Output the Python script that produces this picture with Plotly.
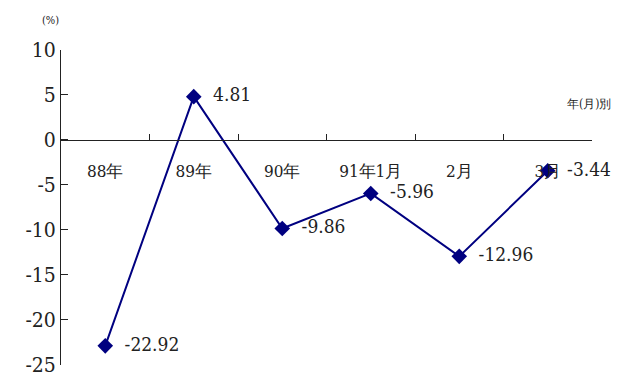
import plotly.graph_objects as go

categories = ["88年", "89年", "90年", "91年1月", "2月", "3月"]
values = [-22.92, 4.81, -9.86, -5.96, -12.96, -3.44]
value_labels = ["-22.92", "4.81", "-9.86", "-5.96", "-12.96", "-3.44"]
y_ticks = [10, 5, 0, -5, -10, -15, -20, -25]

FONT = "DejaVu Serif Condensed, DejaVu Serif"
NAVY = "#000080"
INK = "#222"

fig = go.Figure()
fig.add_trace(go.Scatter(
    x=categories, y=values,
    mode="lines+markers+text",
    line=dict(color=NAVY, width=2),
    marker=dict(symbol="diamond", size=12, color=NAVY),
    text=["  " + t for t in value_labels],
    textposition="middle right",
    textfont=dict(family=FONT, size=19, color=INK),
    cliponaxis=False,
    showlegend=False,
))

fig.update_layout(
    width=616, height=367,
    margin=dict(l=53, r=32, t=42, b=10),
    paper_bgcolor="white", plot_bgcolor="white",
    font=dict(family=FONT, color=INK),
    xaxis=dict(
        type="category",
        range=[-0.5, 5.5],
        anchor="free", position=(0 - (-25.05)) / 35.05,
        showline=True, linecolor=INK, linewidth=1,
        ticks="inside", ticklen=6, tickcolor=INK,
        tickson="boundaries",
        showgrid=False, zeroline=False, automargin=False,
        tickfont=dict(family=FONT, size=17, color=INK),
        ticklabelstandoff=16,
    ),
    yaxis=dict(
        range=[-25.05, 10],
        tickvals=y_ticks,
        ticktext=[str(v) for v in y_ticks],
        showline=True, linecolor=INK, linewidth=1,
        ticks="inside", ticklen=7, tickcolor=INK,
        showgrid=False, zeroline=False, automargin=False,
        ticklabeloverflow="allow",
        tickfont=dict(family=FONT, size=21, color=INK),
    ),
    annotations=[
        dict(text="(%)", xref="paper", yref="paper", x=0, y=1.0, yshift=30,
             showarrow=False, font=dict(family=FONT, size=11, color=INK),
             xanchor="right", yanchor="middle"),
        dict(text="年(月)別", xref="paper", yref="paper", x=1.0, y=(4 + 25.05) / 35.05,
             showarrow=False, font=dict(family=FONT, size=12, color=INK),
             xanchor="left", xshift=-27, yanchor="middle"),
    ],
)

fig.write_html(
    "out.html",
    post_script="document.documentElement.style.overflow='hidden';document.body.style.overflow='hidden';",
)
